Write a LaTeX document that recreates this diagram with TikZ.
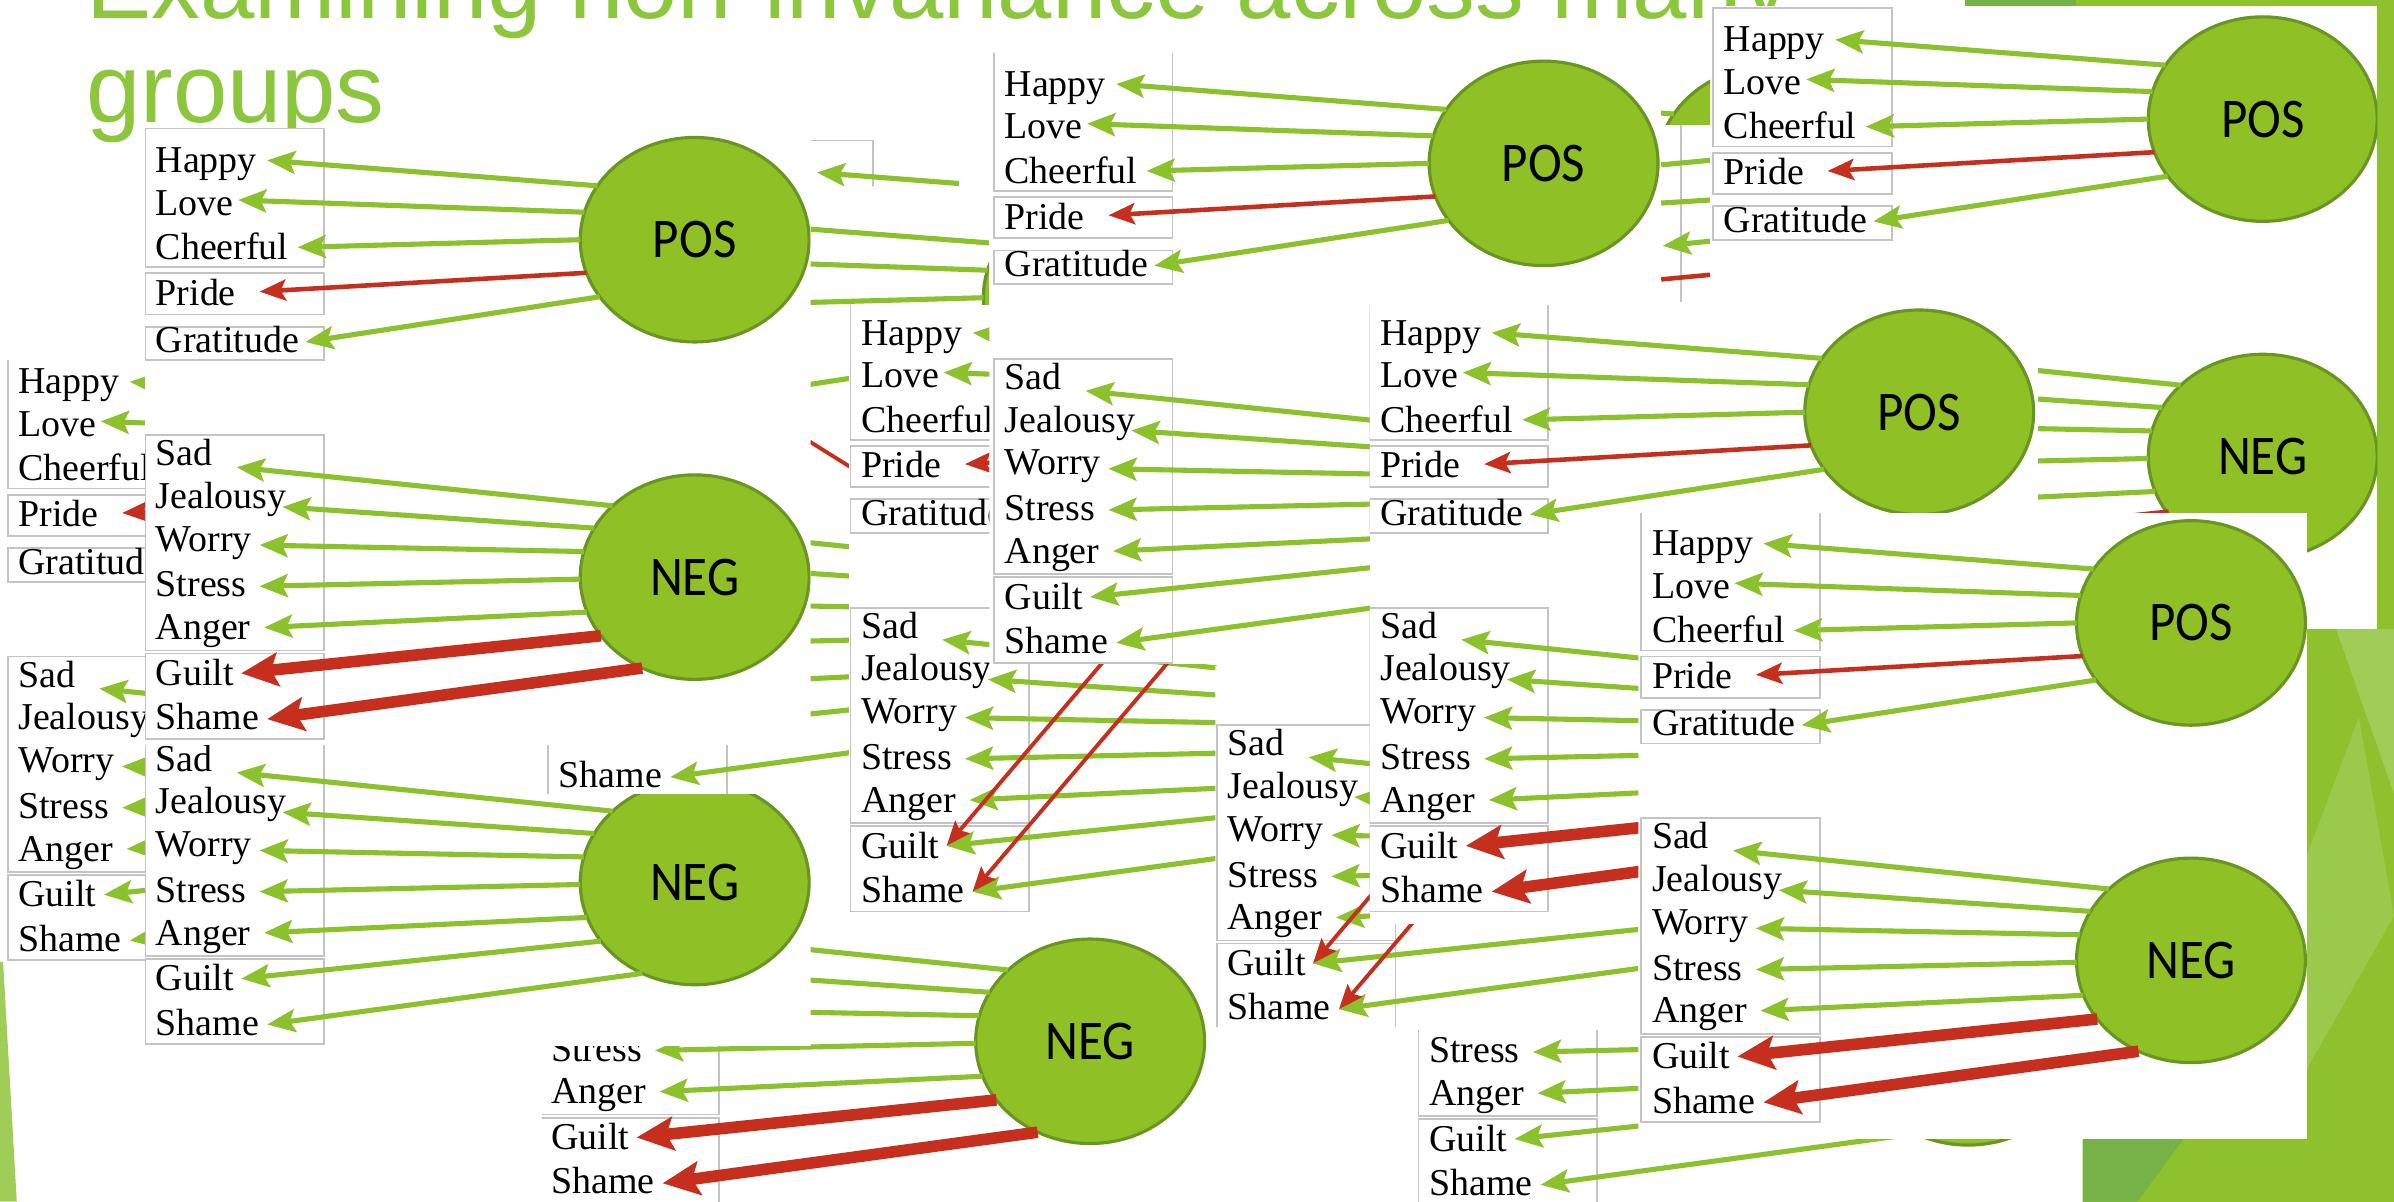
\documentclass[tikz,border=0pt]{standalone}
\usepackage{fontspec}
\usepackage{graphicx}
\usetikzlibrary{shapes.geometric,arrows.meta}
\newfontfamily\itemfam{Liberation Serif}
\newfontfamily\factorfam{Carlito}
\newfontfamily\titlefam{Liberation Sans}
\definecolor{arrowgreen}{RGB}{139,193,43}
\definecolor{factorfill}{RGB}{143,193,38}
\definecolor{factorline}{RGB}{104,150,32}
\definecolor{arrowred}{RGB}{198,46,30}
\definecolor{boxgray}{RGB}{196,196,196}
\definecolor{titlegreen}{RGB}{140,198,60}
\definecolor{slidegreen}{RGB}{141,193,45}
\definecolor{slidelight}{RGB}{160,204,88}
\definecolor{slidedark}{RGB}{118,178,72}
\newcommand\itemfont{\itemfam\fontsize{10.8pt}{12pt}\selectfont}
\newcommand\factorfont{\factorfam\fontsize{14.5pt}{16pt}\selectfont}
\newcommand\titlefont{\titlefam\fontsize{27.8pt}{32pt}\selectfont}
\newcommand\factorlabel[1]{\scalebox{1}[1.1]{#1}}
\tikzset{
  item/.style={anchor=base west, inner sep=0pt, outer sep=0pt, font=\itemfont},
  factor/.style={ellipse, draw=factorline, fill=factorfill, line width=0.9pt,
    minimum width=2.29cm, minimum height=2.046cm, inner sep=0pt, outer sep=0pt, font=\factorfont},
  garr/.style={draw=arrowgreen, line width=1.45pt, -{Stealth[length=8pt,width=6.5pt,inset=1.5pt]}},
  rarr/.style={draw=arrowred, line width=1.3pt, -{Stealth[length=7.5pt,width=6pt,inset=1.5pt]}},
  tarr/.style={draw=arrowred, line width=3.3pt, -{Stealth[length=10.5pt,width=9.5pt,inset=2pt]}},
  xarr/.style={draw=arrowred, line width=1.1pt, -{Stealth[length=7pt,width=5.5pt,inset=1.2pt]}},
  noarr/.style={draw=none},
  boxline/.style={draw=boxgray, line width=0.5pt},
  stub/.style={draw=arrowgreen, line width=1.45pt},
  redstub/.style={draw=arrowred, line width=1.3pt},
}
% One copy of the two-factor model (POS / NEG with their items), shifted by (#2,#3)
% and clipped to the region #4.  #5: style of the Pride loading, #6: style of the
% Guilt and Shame loadings, #7: 0 none, 1 POS->Guilt/Shame cross loadings, 2 NEG->Pride.
\newcommand\drawpanel[7]{%
\begin{scope}
\clip #4;
\fill[white] #4;
\begin{scope}[shift={(#2,#3)}]
\draw[boxline] (95,84) rectangle (212,175) (95,179) rectangle (212,206)
  (95,214) rectangle (212,236) (95,285) rectangle (212,426) (95,428) rectangle (212,484);
\node[item] (#1-happy) at (102,113) {Happy};
\node[item] (#1-love) at (102,141) {Love};
\node[item] (#1-cheerful) at (102,170) {Cheerful};
\node[item] (#1-pride) at (102,200) {Pride};
\node[item] (#1-gratitude) at (102,231) {Gratitude};
\node[item] (#1-sad) at (102,305) {Sad};
\node[item] (#1-jealousy) at (102,333) {Jealousy};
\node[item] (#1-worry) at (102,361) {Worry};
\node[item] (#1-stress) at (102,391) {Stress};
\node[item] (#1-anger) at (102,419) {Anger};
\node[item] (#1-guilt) at (102,449) {Guilt};
\node[item] (#1-shame) at (102,478) {Shame};
\node[factor] (#1-pos) at (455,157) {\factorlabel{POS}};
\node[factor] (#1-neg) at (455,378) {\factorlabel{NEG}};
\coordinate (#1-t-happy) at (175,105);
\coordinate (#1-t-love) at (156,131);
\coordinate (#1-t-cheerful) at (195,162);
\coordinate (#1-t-pride) at (170,191);
\coordinate (#1-t-gratitude) at (200,224);
\coordinate (#1-t-sad) at (155,306);
\coordinate (#1-t-jealousy) at (185,332);
\coordinate (#1-t-worry) at (170,357);
\coordinate (#1-t-stress) at (170,384);
\coordinate (#1-t-anger) at (173,411);
\coordinate (#1-t-guilt) at (158,441);
\coordinate (#1-t-shame) at (175,471);
\draw[garr] (#1-pos.151) -- (#1-t-happy);
\draw[garr] (#1-pos.166) -- (#1-t-love);
\draw[garr] (#1-pos.180) -- (#1-t-cheerful);
\draw[#5] (#1-pos.197) -- (#1-t-pride);
\draw[garr] (#1-pos.211) -- (#1-t-gratitude);
\draw[garr] (#1-neg.139) -- (#1-t-sad);
\draw[garr] (#1-neg.154) -- (#1-t-jealousy);
\draw[garr] (#1-neg.167) -- (#1-t-worry);
\draw[garr] (#1-neg.181) -- (#1-t-stress);
\draw[garr] (#1-neg.198) -- (#1-t-anger);
\draw[#6] (#1-neg.212) -- (#1-t-guilt);
\draw[#6] (#1-neg.240) -- (#1-t-shame);
\ifcase#7\or
  \draw[xarr] (#1-pos.195) -- (#1-t-guilt);
  \draw[xarr] (#1-pos.222) -- (#1-t-shame);
\or
  \draw[xarr] (#1-neg.142) -- (#1-t-pride);
\fi
\end{scope}
\end{scope}}

\begin{document}
\begin{tikzpicture}[x=0.015268cm, y=-0.015268cm]
\useasboundingbox (0,0) rectangle (1568,787);
% slide background with the green facets on the right
\fill[white] (0,0) rectangle (1568,787);
\fill[slidegreen] (1287,0) rectangle (1568,787);
\fill[slidedark] (1287,0) rectangle (1360,4);
\fill[slidelight] (1530,412) -- (1568,412) -- (1568,520) -- cycle;
\fill[slidelight!70!slidegreen] (1511,560) -- (1545,470) -- (1568,600) -- (1511,700) -- cycle;
\fill[slidedark] (1364,746) -- (1430,746) -- (1400,787) -- (1364,787) -- cycle;
\fill[slidelight] (0,630) -- (2,630) -- (11,787) -- (0,787) -- cycle;
% title
\node[anchor=base west, inner sep=0pt, font=\titlefont, text=titlegreen] (title-a) at (56,12)
  {Examining non-invariance across many};
\node[anchor=base west, inner sep=0pt, font=\titlefont, text=titlegreen] (title-b) at (56,80.5)
  {groups};
% stacked copies of the model, back to front
\drawpanel{t}{1027}{-79}{(1120,4) rectangle (1557,412)}{rarr}{tarr}{0}
\drawpanel{q}{705}{-47}{(1088,35) rectangle (1120,82)}{rarr}{garr}{0}
\begin{scope}
\clip (1088,82) rectangle (1120,200);
\fill[white] (1088,82) rectangle (1120,200);
\coordinate (q2-a1) at (1120,105); \coordinate (q2-b1) at (1088,108);
\coordinate (q2-a2) at (1120,131); \coordinate (q2-b2) at (1088,133);
\coordinate (q2-a3) at (1120,158); \coordinate (q2-b3) at (1089,161);
\coordinate (q2-a4) at (1120,180); \coordinate (q2-b4) at (1088,183);
\coordinate (q2-e1) at (1101,82); \coordinate (q2-e2) at (1101,198);
\draw[boxline] (q2-e1) -- (q2-e2);
\draw[stub] (q2-a1) -- (q2-b1);
\draw[stub] (q2-a2) -- (q2-b2);
\draw[garr] (q2-a3) -- (q2-b3);
\draw[redstub] (q2-a4) -- (q2-b4);
\end{scope}
\drawpanel{p}{360}{8}{(531,88) rectangle (628,122)}{rarr}{garr}{0}
\drawpanel{l}{-90}{145}{(4,236) rectangle (95,631)}{rarr}{garr}{0}
\drawpanel{a}{0}{0}{(95,84) rectangle (531,486)}{rarr}{tarr}{0}
\drawpanel{e}{259}{304}{(355,600) rectangle (928,787)}{rarr}{tarr}{0}
\drawpanel{b}{0}{200}{(95,488) rectangle (531,685)}{rarr}{garr}{0}
\drawpanel{z}{264}{38}{(531,122) -- (648,122) -- (648,205) -- (556,205) -- (556,520) -- (358,520) -- (358,488) -- (531,488) -- cycle}{noarr}{garr}{2}
\drawpanel{x}{462}{113}{(556,200) rectangle (797,600)}{rarr}{garr}{1}
\drawpanel{y}{556}{-50}{(648,35) rectangle (1088,435)}{rarr}{garr}{0}
\drawpanel{w}{702}{190}{(796,436) rectangle (1073,672)}{rarr}{garr}{1}
\drawpanel{m}{802}{113}{(897,200) rectangle (1335,605)}{rarr}{tarr}{0}
\drawpanel{s}{834}{305}{(928,675) rectangle (1364,787)}{rarr}{garr}{0}
\drawpanel{r}{980}{251}{(1073,336) rectangle (1511,746)}{rarr}{tarr}{0}
\end{tikzpicture}
\end{document}
